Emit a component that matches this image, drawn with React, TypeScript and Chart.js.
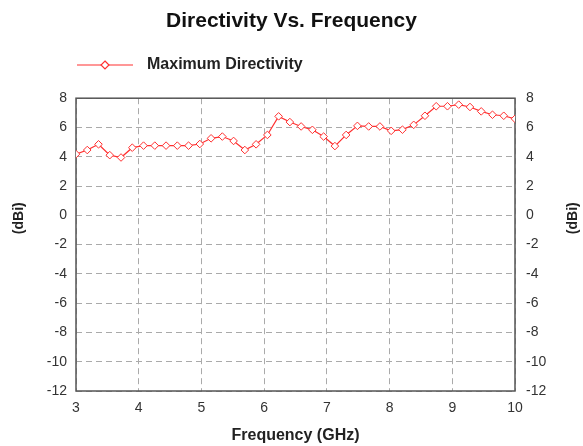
import React, { useEffect, useRef } from "react";
import { Chart, registerables } from "chart.js";

Chart.register(...registerables);

const titleText = "Directivity Vs. Frequency";
const seriesLabel = "Maximum Directivity";
const xAxisTitle = "Frequency (GHz)";
const yAxisTitle = "(dBi)";

const freqStart = 3;
const freqEnd = 10;
const directivity = [
  4.18, 4.46, 4.85, 4.11, 3.95, 4.62, 4.76, 4.76, 4.76, 4.76,
  4.76, 4.87, 5.26, 5.38, 5.08, 4.46, 4.85, 5.49, 6.76, 6.37,
  6.07, 5.84, 5.38, 4.73, 5.49, 6.11, 6.07, 6.07, 5.77, 5.85,
  6.18, 6.8, 7.45, 7.45, 7.56, 7.4, 7.1, 6.87, 6.8, 6.59,
];
const frequencies = directivity.map(
  (_, i) => freqStart + ((freqEnd - freqStart) * i) / (directivity.length - 1)
);
const yMin = -12;
const yMax = 8;
const yStep = 2;
const xStep = 1;

const RED = "#ff3030";
const FONT = "'Liberation Sans', Arial, sans-serif";

const decorPlugin = {
  id: "decor",
  beforeDatasetsDraw(chart: any) {
    const { ctx, chartArea } = chart;
    ctx.save();
    ctx.strokeStyle = "#555";
    ctx.lineWidth = 1.5;
    ctx.strokeRect(chartArea.left, chartArea.top, chartArea.right - chartArea.left, chartArea.bottom - chartArea.top);
    ctx.restore();
  },
  afterDraw(chart: any) {
    const { ctx, chartArea } = chart;
    ctx.save();
    // legend
    const ly = 65;
    const lx0 = chartArea.left + 1;
    const lx1 = lx0 + 56;
    ctx.strokeStyle = RED;
    ctx.lineWidth = 1.2;
    ctx.beginPath();
    ctx.moveTo(lx0, ly);
    ctx.lineTo(lx1, ly);
    ctx.stroke();
    const cx = (lx0 + lx1) / 2;
    ctx.fillStyle = "#fff";
    ctx.beginPath();
    ctx.moveTo(cx, ly - 4);
    ctx.lineTo(cx + 4, ly);
    ctx.lineTo(cx, ly + 4);
    ctx.lineTo(cx - 4, ly);
    ctx.closePath();
    ctx.fill();
    ctx.stroke();
    ctx.fillStyle = "#222";
    ctx.font = `bold 16px ${FONT}`;
    ctx.textBaseline = "middle";
    ctx.textAlign = "left";
    ctx.fillText(seriesLabel, lx1 + 14, ly);
    // y axis titles
    const ty = chartArea.top + (chartArea.bottom - chartArea.top) * 0.41;
    ctx.font = `bold 14px ${FONT}`;
    ctx.textAlign = "center";
    [19, chart.width - 10].forEach((x) => {
      ctx.save();
      ctx.translate(x, ty);
      ctx.rotate(-Math.PI / 2);
      ctx.fillText(yAxisTitle, 0, 0);
      ctx.restore();
    });
    ctx.restore();
  },
};

export default function App() {
  const ref = useRef<HTMLCanvasElement>(null);
  useEffect(() => {
    if (!ref.current) return;
    Chart.defaults.font.family = FONT;
    const chart = new Chart(ref.current, {
      type: "line",
      data: {
        datasets: [
          {
            label: seriesLabel,
            data: frequencies.map((f, i) => ({ x: f, y: directivity[i] })),
            borderColor: RED,
            borderWidth: 1.2,
            pointStyle: "rectRot",
            pointRadius: 3.8,
            pointBorderWidth: 1,
            pointBackgroundColor: "#fff",
            pointBorderColor: RED,
            tension: 0,
            yAxisID: "y",
          },
        ],
      },
      options: {
        responsive: false,
        animation: false,
        layout: { padding: 0 },
        plugins: {
          legend: { display: false },
          tooltip: { enabled: false },
          title: {
            display: true,
            text: titleText,
            color: "#111",
            font: { size: 21, weight: "bold", family: FONT },
            padding: { top: 9, bottom: 64 },
          },
        },
        scales: {
          x: {
            type: "linear",
            min: freqStart,
            max: freqEnd,
            afterFit: (s: any) => {
              s.height = 55;
            },
            ticks: { stepSize: xStep, color: "#333", font: { size: 14 }, padding: 9, maxRotation: 0 },
            grid: { color: "#aaa", drawTicks: false },
            border: { display: false, dash: [6, 4] },
            title: {
              display: true,
              text: xAxisTitle,
              color: "#222",
              font: { size: 16, weight: "bold" },
              padding: { top: 0, bottom: 1 },
            },
          },
          y: {
            position: "left",
            min: yMin,
            max: yMax,
            afterFit: (s: any) => {
              s.width = 76;
            },
            ticks: { stepSize: yStep, color: "#333", font: { size: 14 }, padding: 9 },
            grid: { color: "#aaa", drawTicks: false },
            border: { display: false, dash: [6, 4] },
          },
          y2: {
            position: "right",
            min: yMin,
            max: yMax,
            afterFit: (s: any) => {
              s.width = 68;
            },
            ticks: { stepSize: yStep, color: "#333", font: { size: 14 }, padding: 11 },
            grid: { display: false, drawTicks: false },
            border: { display: false },
          },
        },
      },
      plugins: [decorPlugin],
    } as any);
    return () => chart.destroy();
  }, []);
  return (
    <div style={{ position: "absolute", left: 0, top: 0, width: 583, height: 446, background: "#fff" }}>
      <canvas ref={ref} width={583} height={446} style={{ display: "block" }} />
    </div>
  );
}
